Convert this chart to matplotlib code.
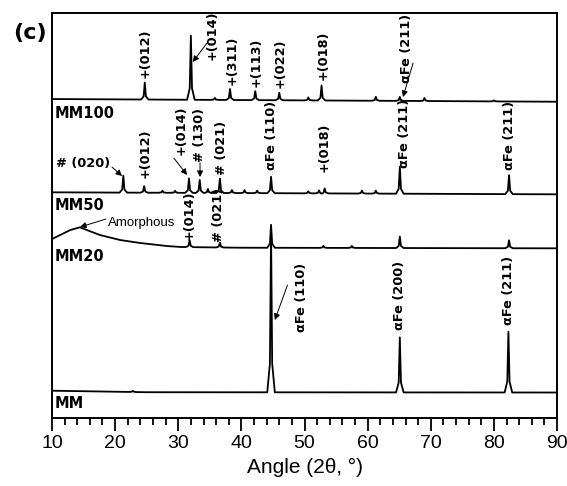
import numpy as np
import matplotlib.pyplot as plt
from matplotlib.ticker import MultipleLocator

# Diffractogrammes (intensité en unités arbitraires, décalées)
# fond continu : angles / intensités
mm100_bg_x = [10, 90]
mm100_bg_y = [318.7, 316.0]
mm100_pk_x = [24.7, 32.0, 35.8, 38.2, 42.2, 46.0, 50.6, 52.7, 61.3, 65.1, 69.0, 80.0]
mm100_pk_h = [17, 64, 2, 11, 9, 7.5, 3, 15, 4, 4, 3, 1]

mm50_bg_x = [10, 90]
mm50_bg_y = [225.4, 223.4]
mm50_pk_x = [21.3, 24.6, 27.5, 29.5, 31.7, 33.4, 34.7, 36.6, 38.5, 40.5, 42.5,
             44.7, 50.6, 52.3, 53.2, 59.1, 61.3, 65.1, 82.4]
mm50_pk_h = [17, 6.5, 2, 2, 14.5, 13, 4, 14.5, 3, 3, 2.5,
             16.5, 2, 3, 5, 3, 3, 27, 19]

mm20_bg_x = [10, 12.9, 14.4, 17.6, 20.8, 24.0, 28.2, 30.5, 40, 90]
mm20_bg_y = [178.7, 187.7, 190.4, 182.7, 177.7, 174.7, 171.7, 170.7, 170.0, 169.4]
mm20_pk_x = [31.8, 36.6, 44.7, 53.0, 57.5, 65.1, 82.4]
mm20_pk_h = [7, 5, 23, 2, 2, 11.5, 8]

mm_bg_x = [10, 25, 90]
mm_bg_y = [27.0, 25.5, 25.2]
mm_pk_x = [22.8, 44.7, 65.1, 82.3]
mm_pk_h = [1.2, 160, 55, 60.7]

samples = ["MM100", "MM50", "MM20", "MM"]

# forme d'un pic : décalages (°) et fraction de la hauteur
shape_dx = [-0.6, -0.18, 0.0, 0.18, 0.6]
shape_f = [0.0, 0.18, 1.0, 0.18, 0.0]


def trace(bg_x, bg_y, pk_x, pk_h):
    pts = list(zip(bg_x, bg_y))
    for p, h in zip(pk_x, pk_h):
        for dx, f in zip(shape_dx, shape_f):
            pts.append((p + dx, np.interp(p + dx, bg_x, bg_y) + f * h))
    pts.sort()
    return [a for a, b in pts], [b for a, b in pts]


fig = plt.figure(figsize=(5.67, 4.86), dpi=100)
ax = fig.add_axes([0.0917, 0.1405, 0.8907, 0.8333])

for bx, by, px, ph in [(mm100_bg_x, mm100_bg_y, mm100_pk_x, mm100_pk_h),
                       (mm50_bg_x, mm50_bg_y, mm50_pk_x, mm50_pk_h),
                       (mm20_bg_x, mm20_bg_y, mm20_pk_x, mm20_pk_h),
                       (mm_bg_x, mm_bg_y, mm_pk_x, mm_pk_h)]:
    x, y = trace(bx, by, px, ph)
    ax.plot(x, y, color="black", lw=1.3)

ax.set_xlim(10, 90)
ax.set_ylim(0, 405)
ax.xaxis.set_major_locator(MultipleLocator(10))
ax.xaxis.set_minor_locator(MultipleLocator(2))
ax.tick_params(axis="x", which="major", direction="out", length=9, width=1.3,
               labelsize=14)
ax.tick_params(axis="x", which="minor", direction="out", length=5, width=1.3)
ax.set_yticks([])
for lab in ax.get_xticklabels():
    lab.set_family("Liberation Sans")
for s in ax.spines.values():
    s.set_linewidth(1.4)
ax.set_xlabel("Angle (2θ, °)", fontsize=15, family="Liberation Sans", labelpad=4)

# noms des échantillons
for name, yy in zip(samples, [304.7, 212.7, 161.7, 14.7]):
    ax.text(10.4, yy, name, fontsize=10.5, fontweight="bold", va="center", ha="left")

# indexation des pics (texte, angle, bas du texte)
peak_labels = [
    ("+(012)", 24.75, 339.7), ("+(014)", 35.3, 357.7), ("+(311)", 38.6, 332.7),
    ("+(113)", 42.3, 330.7), ("+(022)", 46.1, 329.7), ("+(018)", 52.9, 337.7),
    ("αFe (211)", 66.2, 334.7),
    ("+(012)", 24.7, 239.7), ("+(014)", 30.4, 262.7), ("# (130)", 33.4, 255.7),
    ("# (021)", 36.8, 242.7), ("αFe (110)", 44.85, 247.7), ("+(018)", 53.1, 245.7),
    ("αFe (211)", 65.8, 249.7), ("αFe (211)", 82.4, 247.7),
    ("+(014)", 31.7, 177.7), ("# (021)", 36.45, 175.7),
    ("αFe (110)", 49.6, 85.7), ("αFe (200)", 65.07, 87.7), ("αFe (211)", 82.24, 92.7),
]
for txt, xx, yy in peak_labels:
    ax.text(xx, yy, txt, rotation=90, ha="center", va="bottom",
            fontsize=9.3, fontweight="bold")

ax.text(19.2, 254.7, "# (020)", ha="right", va="center", fontsize=9.3, fontweight="bold")
ax.text(18.8, 194.7, "Amorphous", ha="left", va="center", fontsize=9.5,
        family="Liberation Sans")

arrows = [((34.55, 374.7), (32.3, 355.7)), ((67.2, 354.7), (65.6, 320.7)),
          ((19.5, 250.7), (21.1, 241.7)), ((29.3, 259.7), (31.4, 242.7)),
          ((33.45, 254.7), (33.45, 240.7)), ((18.55, 198.7), (14.44, 190.7)),
          ((47.3, 132.7), (45.3, 97.7))]
for tail, head in arrows:
    ax.annotate("", xy=head, xytext=tail,
                arrowprops=dict(arrowstyle="-|>", color="black", lw=0.7,
                                mutation_scale=9, shrinkA=0, shrinkB=0))

fig.text(13 / 567, 1 - 32.5 / 486, "(c)", fontsize=16, fontweight="bold",
         ha="left", va="center")

fig.savefig("out.png", dpi=100)
